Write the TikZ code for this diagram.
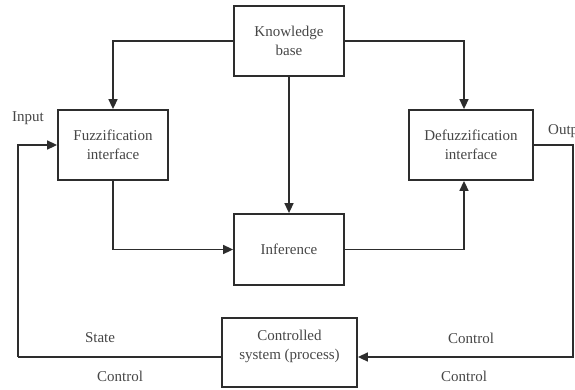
\documentclass[tikz,border=0pt]{standalone}
\usepackage{fontspec}
\setmainfont{Liberation Serif}
\usepackage{xcolor}
\usetikzlibrary{positioning,calc,arrows.meta}
\definecolor{linegray}{RGB}{45, 45, 45}
\definecolor{textgray}{RGB}{70, 70, 70}

\begin{document}
\begin{tikzpicture}[x=1pt,y=-1pt,
        block/.style={draw=linegray,line width=1.8pt,align=center,text=textgray,
            font=\fontsize{15}{19}\selectfont,inner sep=0pt},
        flow/.style={draw=linegray,line width=1.6pt,-{Triangle[length=10pt,width=9pt]}},
        wire/.style={draw=linegray,line width=1.6pt},
        tag/.style={text=textgray,font=\fontsize{15}{18}\selectfont,inner sep=0pt}]
        \useasboundingbox (0,0) rectangle (575,389);

        % Boxes
        \node[block,minimum width=110pt,minimum height=70pt] (kb) at (289,41) {Knowledge\\base};
        \node[block,minimum width=110pt,minimum height=70pt] (fuzz) at (113,145) {Fuzzification\\interface};
        \node[block,minimum width=124pt,minimum height=70pt] (defuzz) at (471,145) {Defuzzification\\interface};
        \node[block,minimum width=110pt,minimum height=71pt] (inf) at (289,249.5) {Inference};
        \node[block,minimum width=135pt,minimum height=69pt] (plant) at (289.5,352.5) {Controlled\\system (process)\\[-4pt]};

        % Helper points
        \coordinate (dx) at (464,0);
        \coordinate (lx) at (18,357);
        \coordinate (rx) at (573,357);

        % Arrows
        \draw[flow] (kb.west) -| (fuzz.north);
        \draw[flow] (kb.east) -| (dx |- defuzz.north);
        \draw[flow] (kb.south) -- (inf.north);
        \draw[flow] (fuzz.south) |- (inf.west);
        \draw[flow] (inf.east) -| (dx |- defuzz.south);
        \draw[flow] (defuzz.east) -| (rx) -- (plant.east |- rx);
        \draw[wire] (plant.west |- lx) -- (lx);
        \draw[flow] (lx) |- (fuzz.west);

        % Labels
        \node[tag] (input) at (28,118) {Input};
        \node[tag,anchor=west] (output) at (548,131) {Output};
        \node[tag] (state) at (100,338) {State};
        \node[tag] (ctrla) at (120,376) {Control};
        \node[tag] (ctrlb) at (471,338) {Control};
        \node[tag] (ctrlc) at (464,376) {Control};
\end{tikzpicture}
\end{document}
